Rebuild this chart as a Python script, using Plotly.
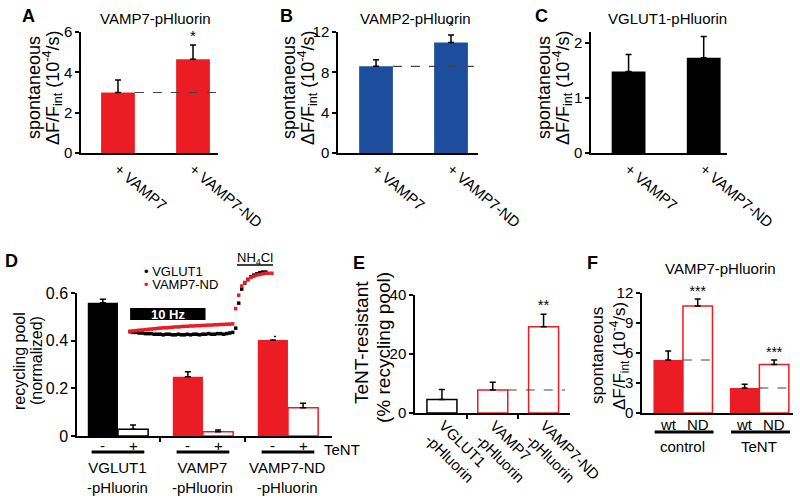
import plotly.graph_objects as go

RED = "#ec1c24"
BLUE = "#1d4e9e"
BLACK = "#000000"
FONT = "Liberation Sans, Arial, Helvetica, sans-serif"
W, H = 800, 500

# ---------------- data ----------------
# Panel A: VAMP7-pHluorin
a_cats = ["+ VAMP7", "+ VAMP7-ND"]
a_vals = [3.0, 4.65]
a_err = [0.62, 0.70]
a_sig = ["", "*"]

# Panel B: VAMP2-pHluorin
b_cats = ["+ VAMP7", "+ VAMP7-ND"]
b_vals = [8.6, 10.95]
b_err = [0.66, 0.76]
b_sig = ["", "*"]

# Panel C: VGLUT1-pHluorin
c_cats = ["+ VAMP7", "+ VAMP7-ND"]
c_vals = [1.48, 1.73]
c_err = [0.31, 0.39]

# Panel D: recycling pool, -/+ TeNT
d_groups = ["VGLUT1<br>-pHluorin", "VAMP7<br>-pHluorin", "VAMP7-ND<br>-pHluorin"]
d_minus = [0.559, 0.249, 0.403]
d_minus_err = [0.015, 0.021, 0.014]
d_plus = [0.028, 0.018, 0.119]
d_plus_err = [0.018, 0.007, 0.018]
d_colors = [BLACK, RED, RED]

# Panel D inset: normalized fluorescence traces (frames)
inset_vglut1 = [0.02, 0.01, 0.01, 0.0, 0.0, -0.01, -0.01, -0.01, -0.02, -0.02,
                -0.02, -0.03, -0.02, -0.02, -0.03, -0.03, -0.02, -0.03, -0.03, -0.02,
                -0.03, -0.02, -0.02, -0.03, -0.02, -0.02, -0.01, -0.02, -0.02, -0.01,
                -0.01, -0.02, -0.01, 0.0, 0.01,
                0.08, 0.49, 0.72, 0.82, 0.88, 0.92, 0.95, 0.97, 0.99, 1.0, 1.0]
inset_vamp7nd = [0.03, 0.035, 0.04, 0.045, 0.05, 0.055, 0.06, 0.065, 0.07, 0.075,
                 0.08, 0.085, 0.085, 0.09, 0.095, 0.10, 0.10, 0.105, 0.11, 0.11,
                 0.115, 0.115, 0.12, 0.12, 0.125, 0.125, 0.13, 0.13, 0.135, 0.135,
                 0.14, 0.14, 0.145, 0.145, 0.15,
                 0.40, 0.62, 0.77, 0.83, 0.87, 0.91, 0.93, 0.95, 0.96, 0.97, 0.98, 0.98, 0.98]
stim_frames = [0, 25]  # 10 Hz stimulation window (frames)

# Panel E: TeNT-resistant fraction
e_cats = ["VGLUT1<br>-pHluorin", "VAMP7<br>-pHluorin", "VAMP7-ND<br>-pHluorin"]
e_vals = [4.6, 7.8, 29.2]
e_err = [3.4, 2.6, 4.3]
e_sig = ["", "", "**"]
e_colors = [BLACK, RED, RED]

# Panel F: VAMP7-pHluorin wt / ND, control / TeNT
f_groups = ["control", "TeNT"]
f_wt = [5.3, 2.5]
f_wt_err = [0.9, 0.38]
f_nd = [10.7, 4.86]
f_nd_err = [0.7, 0.44]
f_sig = ["***", "***"]


# ---------------- helpers ----------------
def px(x):
    return x / W


def py(y):
    return 1 - y / H


fig = go.Figure()
annotations = []
shapes = []


def text(x, y, s, size=15, xref="paper", yref="paper", **kw):
    d = dict(x=x, y=y, xref=xref, yref=yref, text=s, showarrow=False,
             xanchor="center", yanchor="middle",
             font=dict(family=FONT, size=size, color=kw.pop("color", BLACK)))
    d.update(kw)
    annotations.append(d)


def axis_style(**kw):
    d = dict(showline=True, linecolor=BLACK, linewidth=1.5, showgrid=False,
             zeroline=False, ticks="outside", ticklen=4, tickwidth=1.5,
             tickcolor=BLACK, tickfont=dict(family=FONT, size=15, color=BLACK),
             fixedrange=True, automargin=False)
    d.update(kw)
    return d


def err(arr):
    return dict(type="data", array=arr, arrayminus=[0] * len(arr), symmetric=False,
                color=BLACK, thickness=1.5, width=3)


def simple_panel(ax, cats, vals, errs, color, yrange, dtick, xdom, xrange, ydom,
                 sig=None, dashed=True, width=0.45):
    xs = list(range(len(cats)))
    xa = "x" if ax == 1 else f"x{ax}"
    ya = "y" if ax == 1 else f"y{ax}"
    fig.add_trace(go.Bar(x=xs, y=vals, width=width, marker=dict(color=color, line=dict(width=0)),
                         error_y=err(errs), xaxis=xa, yaxis=ya, showlegend=False))
    if dashed:
        fig.add_trace(go.Scatter(x=[xs[0] + width / 2, xrange[1]], y=[vals[0], vals[0]],
                                 mode="lines", line=dict(color="#444", width=1.2, dash="dash"),
                                 xaxis=xa, yaxis=ya, showlegend=False))
    if sig:
        fig.add_trace(go.Scatter(x=xs, y=[v + e for v, e in zip(vals, errs)], text=sig,
                                 mode="text", textposition="top center",
                                 textfont=dict(family=FONT, size=15, color=BLACK),
                                 xaxis=xa, yaxis=ya, showlegend=False, cliponaxis=False))
    key = "" if ax == 1 else str(ax)
    fig.layout["xaxis" + key] = axis_style(domain=[px(xdom[0]), px(xdom[1])], range=xrange,
                                            tickvals=xs, ticktext=cats, tickangle=40, ticks="",
                                            anchor=ya)
    fig.layout["yaxis" + key] = axis_style(domain=[py(ydom[1]), py(ydom[0])], range=yrange,
                                            dtick=dtick, anchor=xa)


# Panels A, B, C
simple_panel(1, a_cats, a_vals, a_err, RED, [0, 6], 2, (81, 218), [-0.493, 1.333], (32, 153), sig=a_sig)
simple_panel(2, b_cats, b_vals, b_err, BLUE, [0, 12], 4, (338, 478), [-0.507, 1.36], (32, 153), sig=b_sig)
simple_panel(3, c_cats, c_vals, c_err, BLACK, [0, 2.2], 1, (591, 727), [-0.5, 1.31], (32, 153), dashed=False)

for cx, title in [(155, "VAMP7-pHluorin"), (415, "VAMP2-pHluorin"), (667, "VGLUT1-pHluorin")]:
    text(px(cx), py(18), title)

# y labels A-C, F
for x1, x2, yc, fs in [(34, 53, 88, 18), (289, 308, 88, 18), (544, 563, 88, 18), (597, 619, 356, 17)]:
    text(px(x1), py(yc), "spontaneous", fs, textangle=-90)
    text(px(x2), py(yc), "ΔF/F<sub>int</sub> (10<sup>-4</sup>/s)", fs, textangle=-90)

# Panel letters
for lx, ly, letter in [(28, 16, "A"), (286, 16, "B"), (541, 16, "C"), (11, 261, "D"), (359, 263, "E"), (592, 263, "F")]:
    text(px(lx), py(ly), f"<b>{letter}</b>", 18)

# ---------------- Panel D ----------------
dw = 0.355
dx = list(range(len(d_groups)))
fig.add_trace(go.Bar(x=dx, y=d_minus, width=dw, offset=-dw, marker=dict(color=d_colors, line=dict(width=0)),
                     error_y=err(d_minus_err), xaxis="x4", yaxis="y4", showlegend=False))
fig.add_trace(go.Bar(x=dx, y=d_plus, width=dw, offset=0,
                     marker=dict(color="white", line=dict(color=d_colors, width=1.5)),
                     error_y=err(d_plus_err), xaxis="x4", yaxis="y4", showlegend=False))
fig.layout.xaxis4 = axis_style(domain=[px(77), px(332)], range=[-0.482, 2.518], tickvals=[0.5, 1.5],
                               showticklabels=False, anchor="y4")
fig.layout.yaxis4 = axis_style(domain=[py(436), py(293)], range=[0, 0.6], dtick=0.2, anchor="x4",
                               tickfont=dict(family=FONT, size=16, color=BLACK))
for i in dx:
    text(i - dw / 2, py(445), "-", xref="x4")
    text(i + dw / 2, py(445), "+", xref="x4")
    shapes.append(dict(type="line", xref="x4", yref="paper", x0=i - 0.31, x1=i + 0.31,
                       y0=py(452), y1=py(452), line=dict(color=BLACK, width=3)))
    text(i, py(477), d_groups[i], xref="x4")
text(px(322), py(449), "TeNT", xanchor="left")
text(px(19), py(361), "recycling pool", 16, textangle=-90)
text(px(36), py(361), "(normalized)", 16, textangle=-90)

# Inset
fig.add_trace(go.Scatter(x=list(range(len(inset_vglut1))), y=inset_vglut1, mode="markers",
                         marker=dict(symbol="square", size=3.5, color=BLACK, line=dict(width=0)),
                         xaxis="x5", yaxis="y5", showlegend=False, cliponaxis=False))
fig.add_trace(go.Scatter(x=list(range(len(inset_vamp7nd))), y=inset_vamp7nd, mode="markers",
                         marker=dict(symbol="square", size=3.5, color=RED, line=dict(width=0)),
                         xaxis="x5", yaxis="y5", showlegend=False, cliponaxis=False))
fig.layout.xaxis5 = dict(domain=[px(128), px(274)], range=[-0.7, 47.7], visible=False, anchor="y5", fixedrange=True)
fig.layout.yaxis5 = dict(domain=[py(339.1), py(271)], range=[-0.1, 1.017], visible=False, anchor="x5", fixedrange=True)
shapes.append(dict(type="rect", xref="x5", yref="paper", x0=stim_frames[0], x1=stim_frames[1],
                   y0=py(320), y1=py(308), fillcolor=BLACK, line=dict(width=0)))
text(sum(stim_frames) / 2, py(314), "<b>10 Hz</b>", 13, xref="x5", color="white")
text(px(255), py(258), "NH<sub>4</sub>Cl", 13)
shapes.append(dict(type="line", xref="paper", yref="paper", x0=px(237), x1=px(273), y0=py(265), y1=py(265),
                   line=dict(color=BLACK, width=1.5)))
text(px(142), py(271), "• VGLUT1", 13, xanchor="left")
text(px(142), py(284), "<span style='color:%s'>•</span> VAMP7-ND" % RED, 13, xanchor="left")

# ---------------- Panel E ----------------
ew = 0.59
ex = list(range(len(e_cats)))
e_range = [-0.53, 2.52]
fig.add_trace(go.Bar(x=ex, y=e_vals, width=ew, marker=dict(color="white", line=dict(color=e_colors, width=1.5)),
                     error_y=err(e_err), xaxis="x6", yaxis="y6", showlegend=False))
fig.add_trace(go.Scatter(x=[ex[1] + ew / 2, e_range[1] - 0.1], y=[e_vals[1], e_vals[1]], mode="lines",
                         line=dict(color="#444", width=1.2, dash="dash"), xaxis="x6", yaxis="y6", showlegend=False))
fig.add_trace(go.Scatter(x=ex, y=[v + e for v, e in zip(e_vals, e_err)], text=e_sig, mode="text",
                         textposition="top center", textfont=dict(family=FONT, size=15, color=BLACK),
                         xaxis="x6", yaxis="y6", showlegend=False, cliponaxis=False))
fig.layout.xaxis6 = axis_style(domain=[px(415), px(570)], range=e_range, tickvals=[0.5, 1.5],
                               showticklabels=False, anchor="y6")
fig.layout.yaxis6 = axis_style(domain=[py(413), py(295)], range=[0, 40], dtick=20, anchor="x6")
for i in ex:
    text(i, py(414), e_cats[i], xref="x6", xshift=-23, textangle=45, xanchor="left", yanchor="top",
         align="left")
text(px(361), py(343), "TeNT-resistant", 19, textangle=-90)
text(px(383), py(348), "(% recycling pool)", 19, textangle=-90)

# ---------------- Panel F ----------------
fw = 0.386
fx = list(range(len(f_groups)))
fig.add_trace(go.Bar(x=fx, y=f_wt, width=fw, offset=-fw, marker=dict(color=RED, line=dict(width=0)),
                     error_y=err(f_wt_err), xaxis="x7", yaxis="y7", showlegend=False))
fig.add_trace(go.Bar(x=fx, y=f_nd, width=fw, offset=0, marker=dict(color="white", line=dict(color=RED, width=1.5)),
                     error_y=err(f_nd_err), xaxis="x7", yaxis="y7", showlegend=False))
for i in fx:
    fig.add_trace(go.Scatter(x=[i, i + fw], y=[f_wt[i], f_wt[i]], mode="lines",
                             line=dict(color="#444", width=1.2, dash="dash"),
                             xaxis="x7", yaxis="y7", showlegend=False))
fig.add_trace(go.Scatter(x=[i + fw / 2 for i in fx], y=[v + e for v, e in zip(f_nd, f_nd_err)], text=f_sig,
                         mode="text", textposition="top center", textfont=dict(family=FONT, size=14, color=BLACK),
                         xaxis="x7", yaxis="y7", showlegend=False, cliponaxis=False))
fig.layout.xaxis7 = axis_style(domain=[px(642), px(793)], range=[-0.536, 1.44], showticklabels=False,
                               ticks="", anchor="y7")
fig.layout.yaxis7 = axis_style(domain=[py(413), py(293)], range=[0, 12], dtick=3, anchor="x7")
for i in fx:
    text(i - fw / 2, py(424), "wt", xref="x7")
    text(i + fw / 2, py(424), "ND", xref="x7")
    shapes.append(dict(type="line", xref="x7", yref="paper", x0=i - 0.37, x1=i + 0.4,
                       y0=py(432), y1=py(432), line=dict(color=BLACK, width=3)))
    text(i, py(446), f_groups[i], xref="x7")
text(px(720), py(268), "VAMP7-pHluorin")

fig.update_layout(width=W, height=H, margin=dict(l=0, r=0, t=0, b=0, autoexpand=False), barmode="overlay",
                  plot_bgcolor="white", paper_bgcolor="white", showlegend=False,
                  annotations=annotations, shapes=shapes,
                  font=dict(family=FONT, color=BLACK))
fig.write_html("out.html", config={"displayModeBar": False},
               post_script="document.body.style.margin='0px';document.body.style.overflow='hidden';")
